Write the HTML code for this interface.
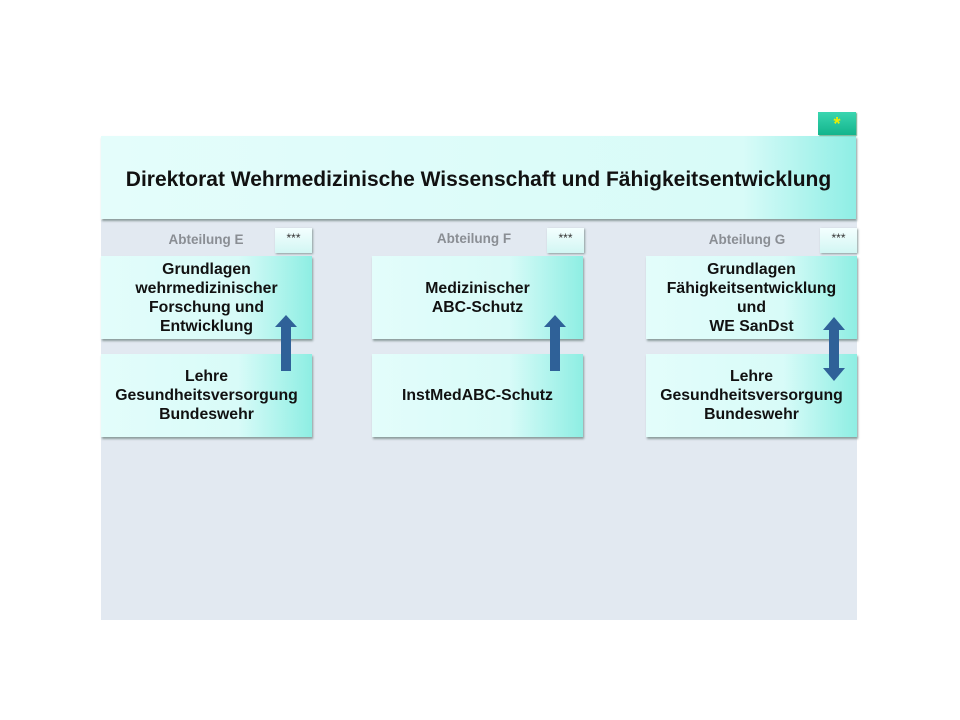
<!DOCTYPE html>
<html><head><meta charset="utf-8"><style>
body{margin:0;width:960px;height:720px;background:#fff;position:relative;overflow:hidden;font-family:"Liberation Sans",sans-serif}
.a{position:absolute}
.bg{left:101px;top:220px;width:756px;height:400px;background:#e2e9f1}
.top{left:101px;top:136px;width:755px;height:83px;background:linear-gradient(to right,#e4fdfb 0%,#d8fbf8 85%,#8eeee5 100%);box-shadow:1px 2px 2px #8a9a9a;display:flex;align-items:center;justify-content:center;font-weight:bold;font-size:21px;color:#111;padding-top:4px;box-sizing:border-box}
.star{left:818px;top:112px;width:38px;height:23px;background:linear-gradient(#3ad6b0,#13b48c);box-shadow:1px 1px 1px #6a8;color:#ee0;font-weight:bold;font-size:18px;text-align:center;line-height:24px}
.box{width:211px;height:83px;background:linear-gradient(to right,#e3fdfb 0%,#d8fbf8 65%,#8eeee3 100%);box-shadow:1px 2px 2px #8c9c9c;display:flex;align-items:center;justify-content:center;text-align:center;font-weight:bold;font-size:15.8px;line-height:19px;color:#111}
.lab{font-weight:bold;font-size:13.5px;color:#8a8e94;width:140px;text-align:center;top:232px}
.s3{width:37px;height:25px;top:228px;background:linear-gradient(#f4ffff,#d2f6f3);box-shadow:1px 1px 2px #8c9c9c;font-size:12px;text-align:center;line-height:20px;color:#333}
</style></head><body>
<div class="a bg"></div>
<div class="a top">Direktorat Wehrmedizinische Wissenschaft und Fähigkeitsentwicklung</div>
<div class="a star">*</div>

<div class="a lab" style="left:136px">Abteilung E</div>
<div class="a lab" style="left:404px;top:231px">Abteilung F</div>
<div class="a lab" style="left:677px">Abteilung G</div>
<div class="a s3" style="left:275px">***</div>
<div class="a s3" style="left:547px">***</div>
<div class="a s3" style="left:820px">***</div>

<div class="a box" style="left:101px;top:256px">Grundlagen<br>wehrmedizinischer<br>Forschung und<br>Entwicklung</div>
<div class="a box" style="left:101px;top:354px">Lehre<br>Gesundheitsversorgung<br>Bundeswehr</div>
<div class="a box" style="left:372px;top:256px">Medizinischer<br>ABC-Schutz</div>
<div class="a box" style="left:372px;top:354px">InstMedABC-Schutz</div>
<div class="a box" style="left:646px;top:256px">Grundlagen<br>Fähigkeitsentwicklung<br>und<br>WE SanDst</div>
<div class="a box" style="left:646px;top:354px">Lehre<br>Gesundheitsversorgung<br>Bundeswehr</div>

<svg class="a" style="left:0;top:0" width="960" height="720">
<g fill="#2f6198">
<polygon points="281,371 291,371 291,327 297,327 286,315 275,327 281,327"/>
<polygon points="550,371 560,371 560,327 566,327 555,315 544,327 550,327"/>
<polygon points="829,330 823,330 834,317 845,330 839,330 839,368 845,368 834,381 823,368 829,368"/>
</g>
</svg>
</body></html>
